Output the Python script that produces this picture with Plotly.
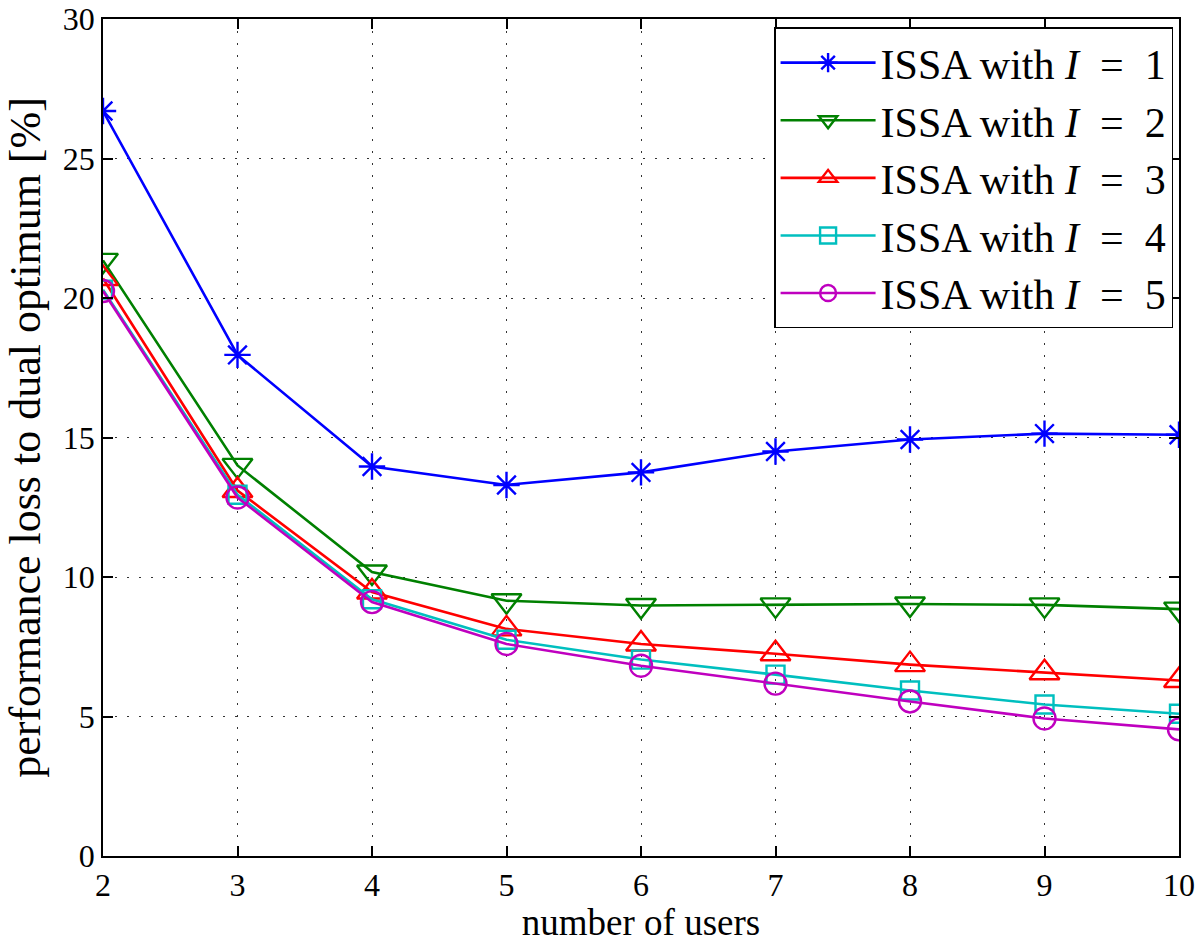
import plotly.graph_objects as go

users = [2, 3, 4, 5, 6, 7, 8, 9, 10]

loss_i1 = [26.7, 17.96, 13.96, 13.3, 13.75, 14.5, 14.93, 15.14, 15.1]
loss_i2 = [21.35, 14.0, 10.18, 9.15, 8.98, 9.0, 9.03, 9.0, 8.85]
loss_i3 = [20.7, 13.1, 9.46, 8.14, 7.6, 7.25, 6.86, 6.57, 6.29]
loss_i4 = [20.3, 12.95, 9.2, 7.75, 7.04, 6.5, 5.93, 5.43, 5.1]
loss_i5 = [20.25, 12.85, 9.1, 7.6, 6.82, 6.18, 5.54, 4.93, 4.54]

labels = ["ISSA with <i>I</i>  =  1", "ISSA with <i>I</i>  =  2", "ISSA with <i>I</i>  =  3",
          "ISSA with <i>I</i>  =  4", "ISSA with <i>I</i>  =  5"]
series = [loss_i1, loss_i2, loss_i3, loss_i4, loss_i5]
colors = ["#0000ff", "#008000", "#ff0000", "#00bfbf", "#bf00bf"]
symbols = ["asterisk-open", "triangle-down-open", "triangle-up-open", "square-open", "circle-open"]
sizes = [22, 26, 26, 18, 22]

serif = "Liberation Serif"

fig = go.Figure()
for name, ys, c, s, sz in zip(labels, series, colors, symbols, sizes):
    fig.add_trace(go.Scatter(
        x=users, y=ys, name=name, mode="lines+markers",
        line=dict(color=c, width=2.6),
        marker=dict(symbol=s, size=sz, color=c, line=dict(color=c, width=2.4)),
    ))

axis_common = dict(
    showline=True, linecolor="black", linewidth=1.5, mirror="ticks",
    ticks="inside", ticklen=10, tickcolor="black", tickwidth=1.5,
    showgrid=True, gridcolor="#333333", griddash="2px,10px", gridwidth=1.2,
    zeroline=False, ticklabeloverflow="allow", automargin=False,
    tickfont=dict(family=serif, size=32, color="black"),
)

fig.update_xaxes(range=[2, 10], tickvals=users,
                 title=dict(text="number of users", standoff=6,
                            font=dict(family=serif, size=37, color="black")),
                 **axis_common)
fig.update_yaxes(range=[0, 30], tickvals=[0, 5, 10, 15, 20, 25, 30],
                 title=dict(text="performance loss to dual optimum [%]", standoff=8,
                            font=dict(family=serif, size=44, color="black")),
                 **axis_common)

fig.update_layout(
    width=1200, height=943,
    margin=dict(l=103, r=21, t=19, b=87),
    plot_bgcolor="white", paper_bgcolor="white",
    legend=dict(x=0.9945, y=0.99, xanchor="right", yanchor="top",
                bgcolor="white", bordercolor="black", borderwidth=1.5,
                font=dict(family=serif, size=42, color="black"),
                itemwidth=95, tracegroupgap=0),
)

fig.write_html("out.html", config={"displayModeBar": False},
               post_script="document.body.style.margin='0px';")
